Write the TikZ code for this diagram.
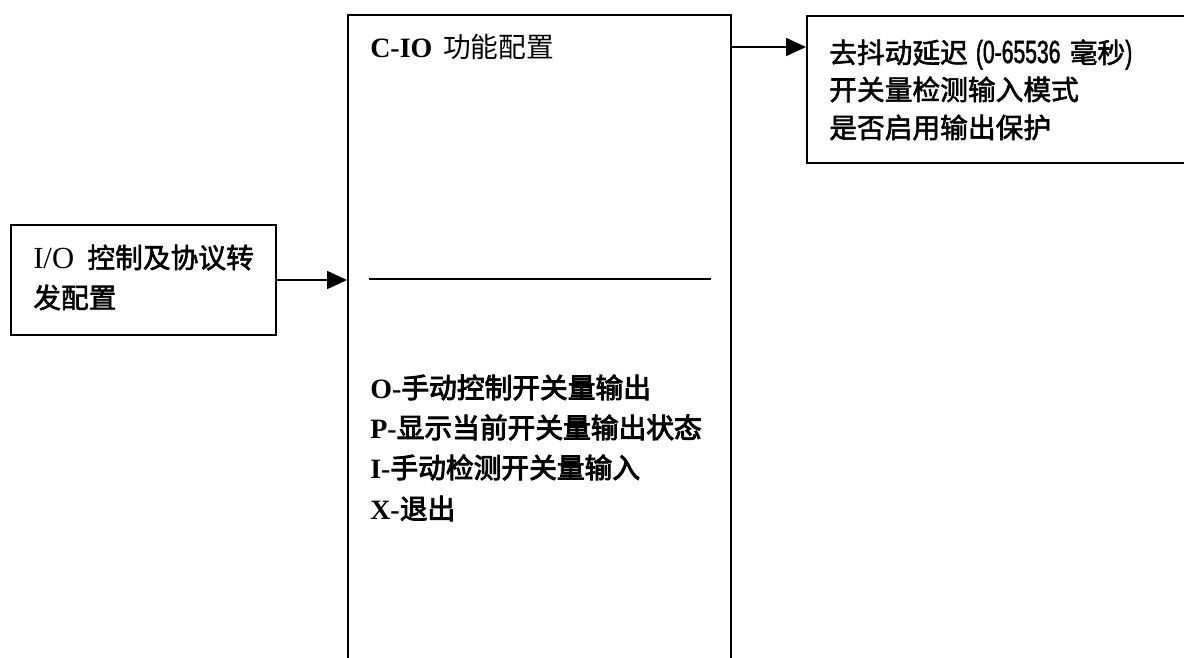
\documentclass[tikz,border=0pt]{standalone}
\usepackage{fontspec}
\setmainfont{Liberation Serif}
\newfontfamily\cjk{Noto Sans CJK SC}
\newfontfamily\cjkb[FakeBold=3.2]{Noto Sans CJK SC}
\newfontfamily\cjkm[FakeBold=2.0]{Noto Sans CJK SC}
\newfontfamily\numf[FakeStretch=0.66,FakeBold=1.5]{Liberation Sans}
\usetikzlibrary{arrows.meta,fit}
\tikzset{
  boxframe/.style={draw, line width=1.4pt, inner sep=0pt},
  txt/.style={anchor=base west, inner sep=0pt, font=\fontsize{20.8pt}{28pt}\selectfont},
  arr/.style={line width=1.3pt, -{Triangle[length=15pt,width=13.5pt]}},
  divider/.style={line width=2pt},
}
\newcommand{\lb}[1]{{\fontsize{21pt}{28pt}\selectfont\bfseries #1}}
\newcommand{\nm}[1]{{\fontsize{24pt}{28pt}\selectfont\numf #1}}
\begin{document}
\begin{tikzpicture}[x=0.75pt,y=-0.75pt]
\useasboundingbox[fill=white] (0,0) rectangle (1184,657);
\clip (0,0) rectangle (1184,657);
% boxes
\node[boxframe, fit={(11,225) (276,335)}] (left) {};
\node[boxframe, fit={(348,15) (731,720)}] (main) {};
\node[boxframe, fit={(807,16) (1260,163)}] (right) {};
% left box text
\node[txt] (l1) at (33,268) {{\fontsize{23pt}{28pt}\selectfont I/O}\hspace{10pt}\cjkm 控制及协议转};
\node[txt] (l2) at (33,308) {\cjkm 发配置};
% main box
\node[txt] (title) at (370,57) {\lb{C-IO}\hspace{8pt}\cjk 功能配置};
\coordinate (dl) at (369,279);
\coordinate (dr) at (711,279);
\draw[divider] (dl) -- (dr);
\node[txt] (o1) at (370,398) {\lb{O-}{\cjkb 手动控制开关量输出}};
\node[txt] (o2) at (370,438) {\lb{P-}{\cjkb 显示当前开关量输出状态}};
\node[txt] (o3) at (370,478) {\lb{I-}{\cjkb 手动检测开关量输入}};
\node[txt] (o4) at (370,519) {\lb{X-}{\cjkb 退出}};
% right box text
\node[txt] (r1) at (829,63) {\cjkm 去抖动延迟\hspace{6pt}\nm{(0-65536}\hspace{7pt}毫秒\nm{)}};
\node[txt] (r2) at (829,100) {\cjkm 开关量检测输入模式};
\node[txt] (r3) at (829,138) {\cjkm 是否启用输出保护};
% connectors
\draw[arr] (left.east) -- (left.east -| main.west);
\coordinate (a2) at (731,47);
\draw[arr] (a2) -- (a2 -| right.west);
\end{tikzpicture}
\end{document}
